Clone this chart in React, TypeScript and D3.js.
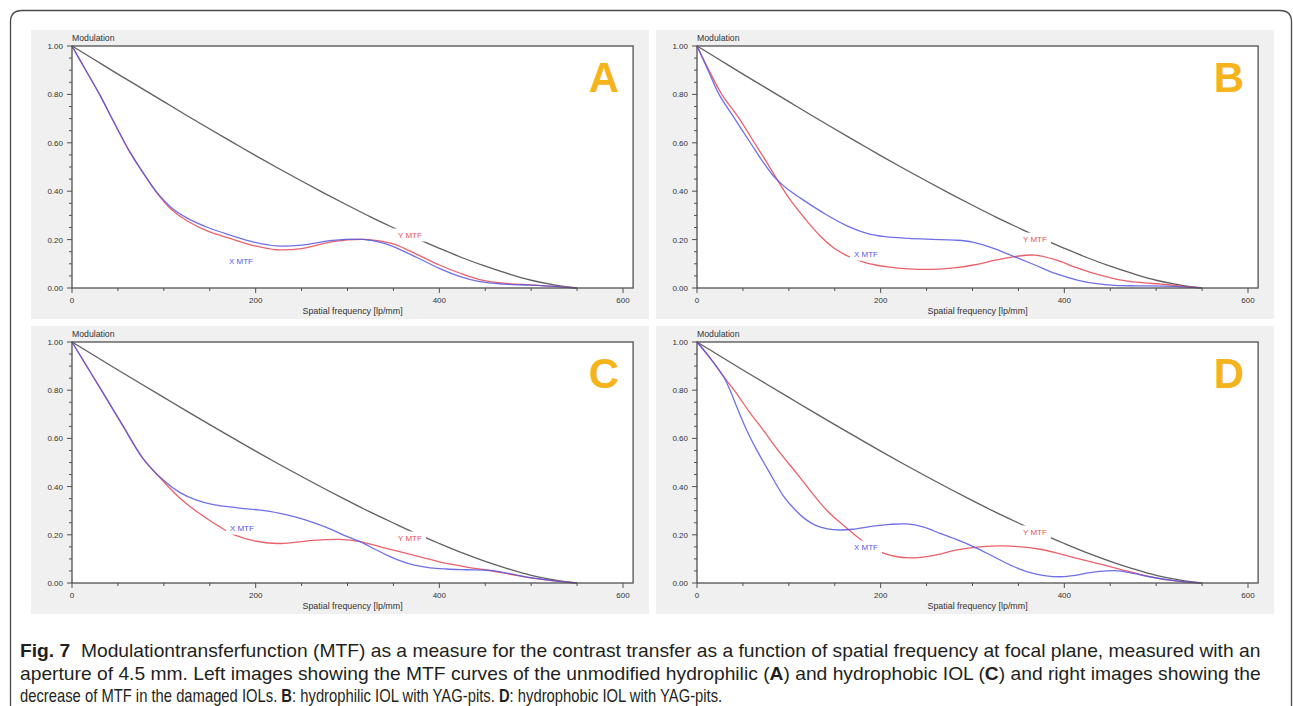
import React, { useMemo } from "react";
import * as d3 from "d3";

type Pt = [number, number];

// Diffraction-limited reference curve (grey)
const diffFreq = [0, 25, 50, 75, 100, 125, 150, 175, 200, 225, 250, 275, 300, 325, 350, 375, 400, 425, 450, 475, 500, 525, 550];
const diffMod = [1.0, 0.942, 0.884, 0.827, 0.770, 0.713, 0.657, 0.602, 0.547, 0.494, 0.442, 0.391, 0.342, 0.294, 0.249, 0.205, 0.164, 0.125, 0.090, 0.059, 0.032, 0.013, 0.0];

// Panel A
const aXMtf: Pt[] = [[0, 1], [15, 0.9], [30, 0.8], [45, 0.69], [61, 0.575], [75, 0.49], [92, 0.397], [108, 0.333], [125, 0.29], [148, 0.25], [172, 0.219], [198, 0.19], [223, 0.174], [250, 0.177], [284, 0.197], [317, 0.201], [335, 0.19], [350, 0.171], [375, 0.127], [400, 0.081], [422, 0.048], [444, 0.026], [470, 0.016], [499, 0.012], [525, 0.007], [549, 0]];
const aYMtf: Pt[] = [[0, 1], [15, 0.9], [30, 0.8], [45, 0.69], [61, 0.575], [75, 0.49], [92, 0.395], [108, 0.325], [125, 0.278], [148, 0.235], [172, 0.205], [198, 0.175], [223, 0.158], [250, 0.163], [284, 0.192], [317, 0.201], [335, 0.195], [350, 0.182], [375, 0.14], [400, 0.095], [422, 0.062], [444, 0.035], [470, 0.02], [499, 0.013], [525, 0.007], [549, 0]];
const aLabels: Pt[] = [[184, 0.112], [368, 0.219]];

// Panel B
const bXMtf: Pt[] = [[0, 1], [12, 0.9], [24, 0.8], [41, 0.7], [59, 0.595], [72, 0.52], [85, 0.455], [100, 0.405], [118, 0.358], [140, 0.305], [164, 0.256], [185, 0.226], [205, 0.212], [230, 0.205], [256, 0.201], [280, 0.198], [300, 0.19], [323, 0.164], [346, 0.129], [368, 0.095], [390, 0.06], [414, 0.033], [435, 0.018], [455, 0.011], [480, 0.009], [510, 0.008], [530, 0.005], [549, 0]];
const bYMtf: Pt[] = [[0, 1], [13, 0.9], [27, 0.8], [46, 0.7], [65, 0.585], [75, 0.525], [85.4, 0.46], [100, 0.372], [118.6, 0.282], [135, 0.212], [151, 0.16], [167, 0.127], [185, 0.103], [210, 0.086], [235, 0.078], [256, 0.077], [280, 0.083], [301, 0.095], [325, 0.115], [346, 0.13], [368, 0.136], [390, 0.117], [414, 0.083], [437, 0.055], [460, 0.034], [482, 0.023], [505, 0.016], [528, 0.008], [549, 0]];
const bLabels: Pt[] = [[184, 0.14], [368, 0.202]];

// Panel C
const cXMtf: Pt[] = [[0, 1], [16, 0.9], [32, 0.8], [55, 0.655], [77.6, 0.515], [100, 0.425], [117.6, 0.375], [135, 0.345], [153.8, 0.325], [180, 0.312], [202.9, 0.303], [225, 0.29], [244.7, 0.272], [262, 0.252], [277, 0.231], [295, 0.2], [313.6, 0.172], [330, 0.14], [342.7, 0.116], [357, 0.093], [371.7, 0.075], [390, 0.063], [408, 0.058], [430, 0.055], [455, 0.052], [475, 0.04], [500, 0.022], [525, 0.009], [548, 0]];
const cYMtf: Pt[] = [[0, 1], [16, 0.9], [32, 0.8], [55, 0.655], [77.6, 0.515], [100, 0.42], [117.6, 0.352], [140, 0.285], [166.6, 0.22], [177.5, 0.199], [197.5, 0.176], [223, 0.164], [245, 0.17], [262.7, 0.177], [291.8, 0.181], [313.6, 0.172], [340, 0.146], [371.7, 0.116], [390, 0.098], [408, 0.081], [430, 0.066], [451.6, 0.054], [475, 0.038], [498.8, 0.021], [525, 0.009], [548, 0]];
const cLabels: Pt[] = [[185, 0.228], [368, 0.187]];

// Panel D
const dXMtf: Pt[] = [[0, 1], [15, 0.93], [29, 0.856], [36, 0.8], [45, 0.715], [54, 0.635], [66, 0.545], [79.5, 0.455], [94, 0.362], [107, 0.303], [118, 0.265], [128.5, 0.24], [142, 0.225], [156, 0.22], [170, 0.223], [192, 0.236], [210, 0.243], [228, 0.245], [247, 0.232], [264.6, 0.206], [283, 0.18], [301, 0.151], [320, 0.115], [337, 0.082], [350, 0.06], [364, 0.042], [380, 0.03], [396, 0.026], [412, 0.032], [428, 0.043], [455, 0.051], [475, 0.04], [491, 0.027], [520, 0.01], [548, 0]];
const dYMtf: Pt[] = [[0, 1], [15, 0.93], [29, 0.856], [43, 0.787], [57, 0.71], [72, 0.635], [90, 0.542], [108.6, 0.455], [125, 0.375], [141, 0.303], [153, 0.26], [165, 0.222], [176, 0.187], [189, 0.152], [201, 0.127], [215, 0.111], [233, 0.104], [258, 0.115], [283, 0.137], [308, 0.15], [333, 0.154], [353, 0.15], [373.5, 0.14], [394, 0.122], [414, 0.102], [437, 0.08], [460, 0.058], [482, 0.036], [505, 0.017], [528, 0.006], [548, 0]];
const dLabels: Pt[] = [[184, 0.149], [368, 0.212]];

const xMajorTicks = [0, 200, 400, 600];
const xMinorTicks = [50, 100, 150, 250, 300, 350, 450, 500, 550];
const yMajorTicks = [0, 0.2, 0.4, 0.6, 0.8, 1.0];
const yMinorTicks = [0.05, 0.1, 0.15, 0.25, 0.3, 0.35, 0.45, 0.5, 0.55, 0.65, 0.7, 0.75, 0.85, 0.9, 0.95];
const seriesNames = ["X MTF", "Y MTF"];
const panelLetters = ["A", "B", "C", "D"];

type Seg = [string, boolean];
const captionLine1: Seg[] = [
  ["Fig. 7", true],
  ["  Modulationtransferfunction (MTF) as a measure for the contrast transfer as a function of spatial frequency at focal plane, measured with an", false],
];
const captionLine2: Seg[] = [
  ["aperture of 4.5 mm. Left images showing the MTF curves of the unmodified hydrophilic (", false],
  ["A", true],
  [") and hydrophobic IOL (", false],
  ["C", true],
  [") and right images showing the", false],
];
const captionLine3: Seg[] = [
  ["decrease of MTF in the damaged IOLs. ", false],
  ["B", true],
  [": hydrophilic IOL with YAG-pits. ", false],
  ["D", true],
  [": hydrophobic IOL with YAG-pits.", false],
];

const X_DOMAIN_MAX = 611;
const RED = "#e8505a";
const BLUE = "#5656e4";
const GREY = "#5f5f5f";
const AXIS = "#505050";
const SMALL_FONT = "'Liberation Sans', Arial, sans-serif";
const CAPTION_FAMILY = "Liberation Sans";
const CAPTION_SIZE = 18;

interface PanelProps {
  left: number;
  top: number;
  bottom: number;
  xMtf: Pt[];
  yMtf: Pt[];
  labels: Pt[];
  letter: string;
}

function Panel({ left, top, bottom, xMtf, yMtf, labels, letter }: PanelProps) {
  const x = d3.scaleLinear().domain([0, 600]).range([left, left + 551]);
  const y = d3.scaleLinear().domain([0, 1]).range([bottom, top]);
  const right = x(X_DOMAIN_MAX);
  const line = d3
    .line<Pt>()
    .x((d) => x(d[0]))
    .y((d) => y(d[1]))
    .curve(d3.curveCatmullRom.alpha(0.5));
  const diffPts: Pt[] = diffFreq.map((f, i) => [f, diffMod[i]]);
  const labelColors = [BLUE, RED];
  return (
    <g>
      <rect x={left - 41} y={top - 16} width={618} height={bottom - top + 47} fill="#f0f0f0" />
      <rect x={left} y={top} width={right - left} height={bottom - top} fill="#ffffff" />
      <path d={line(diffPts) || ""} fill="none" stroke={GREY} strokeWidth={1.3} />
      <path d={line(yMtf) || ""} fill="none" stroke={RED} strokeWidth={1.3} strokeOpacity={0.9} />
      <path d={line(xMtf) || ""} fill="none" stroke={BLUE} strokeWidth={1.3} strokeOpacity={0.85} />
      {labels.map((p, i) => {
        const cx = x(p[0]);
        const cy = y(p[1]);
        return (
          <g key={i}>
            <rect x={cx - 16} y={cy - 6.5} width={32} height={13} fill="#ffffff" />
            <text x={cx} y={cy + 3} textAnchor="middle" fontFamily={SMALL_FONT} fontSize={8} fill={labelColors[i]}>
              {seriesNames[i]}
            </text>
          </g>
        );
      })}
      <rect x={left} y={top} width={right - left} height={bottom - top} fill="none" stroke={AXIS} strokeWidth={1.3} />
      {xMajorTicks.map((t) => (
        <g key={"xm" + t}>
          <line x1={x(t)} x2={x(t)} y1={bottom} y2={bottom + 5} stroke={AXIS} strokeWidth={1} />
          <text x={x(t)} y={bottom + 15} textAnchor="middle" fontFamily={SMALL_FONT} fontSize={8} fill="#333">
            {t}
          </text>
        </g>
      ))}
      {xMinorTicks.map((t) => (
        <line key={"xn" + t} x1={x(t)} x2={x(t)} y1={bottom} y2={bottom + 3} stroke={AXIS} strokeWidth={1} />
      ))}
      {yMajorTicks.map((t) => (
        <g key={"ym" + t}>
          <line x1={left - 5} x2={left} y1={y(t)} y2={y(t)} stroke={AXIS} strokeWidth={1} />
          <text x={left - 9} y={y(t) + 3} textAnchor="end" fontFamily={SMALL_FONT} fontSize={8} fill="#333">
            {t.toFixed(2)}
          </text>
        </g>
      ))}
      {yMinorTicks.map((t) => (
        <line key={"yn" + t} x1={left - 3} x2={left} y1={y(t)} y2={y(t)} stroke={AXIS} strokeWidth={1} />
      ))}
      <text x={left} y={top - 5} fontFamily={SMALL_FONT} fontSize={8.7} fill="#333">
        Modulation
      </text>
      <text x={(left + right) / 2} y={bottom + 25.5} textAnchor="middle" fontFamily={SMALL_FONT} fontSize={8.9} fill="#333">
        Spatial frequency [lp/mm]
      </text>
      <text
        x={right - 14}
        y={top + 46}
        textAnchor="end"
        fontFamily={SMALL_FONT}
        fontWeight={700}
        fontSize={42}
        fill="#f5b31c"
      >
        {letter}
      </text>
    </g>
  );
}

function measureSegs(segs: Seg[]): number {
  if (typeof document === "undefined") return 1;
  const canvas = document.createElement("canvas");
  const ctx = canvas.getContext("2d");
  if (!ctx) return 1;
  let w = 0;
  for (const [t, b] of segs) {
    ctx.font = `${b ? "bold " : ""}${CAPTION_SIZE}px "${CAPTION_FAMILY}"`;
    w += ctx.measureText(t).width;
  }
  return w || 1;
}

function CaptionLine({ segs, y, width }: { segs: Seg[]; y: number; width: number }) {
  const natural = useMemo(() => measureSegs(segs), [segs]);
  const sx = width / natural;
  return (
    <g transform={`translate(20, ${y}) scale(${sx}, 1)`}>
      <text
        x={0}
        y={0}
        fontFamily={`'${CAPTION_FAMILY}', Arial, sans-serif`}
        fontSize={CAPTION_SIZE}
        fill="#231f20"
        style={{ whiteSpace: "pre" }}
      >
        {segs.map(([t, b], i) => (
          <tspan key={i} fontWeight={b ? 700 : 400}>
            {t}
          </tspan>
        ))}
      </text>
    </g>
  );
}

export default function App() {
  const cols = [72, 697];
  const rows = [
    { top: 46, bottom: 288 },
    { top: 342, bottom: 583 },
  ];
  const panels = [
    { xMtf: aXMtf, yMtf: aYMtf, labels: aLabels, c: 0, r: 0 },
    { xMtf: bXMtf, yMtf: bYMtf, labels: bLabels, c: 1, r: 0 },
    { xMtf: cXMtf, yMtf: cYMtf, labels: cLabels, c: 0, r: 1 },
    { xMtf: dXMtf, yMtf: dYMtf, labels: dLabels, c: 1, r: 1 },
  ];
  return (
    <svg
      width={1293}
      height={706}
      viewBox="0 0 1293 706"
      style={{ position: "absolute", left: 0, top: 0, background: "#ffffff" }}
    >
      <rect x={0} y={0} width={1293} height={706} fill="#ffffff" />
      <path
        d="M 10.5 720 L 10.5 22 Q 10.5 10.5 22 10.5 L 1280 10.5 Q 1291.5 10.5 1291.5 22 L 1291.5 720"
        fill="none"
        stroke="#4a4a4a"
        strokeWidth={1.3}
      />
      {panels.map((p, i) => (
        <Panel
          key={i}
          left={cols[p.c]}
          top={rows[p.r].top}
          bottom={rows[p.r].bottom}
          xMtf={p.xMtf}
          yMtf={p.yMtf}
          labels={p.labels}
          letter={panelLetters[i]}
        />
      ))}
      <CaptionLine segs={captionLine1} y={657} width={1241} />
      <CaptionLine segs={captionLine2} y={680} width={1242} />
      <CaptionLine segs={captionLine3} y={702} width={704} />
    </svg>
  );
}
